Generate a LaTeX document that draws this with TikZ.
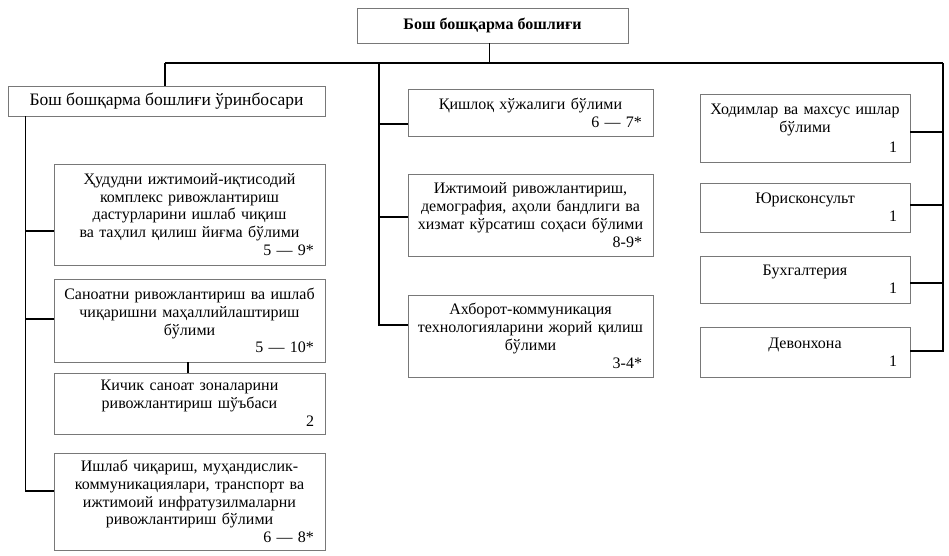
\documentclass[tikz,border=0pt]{standalone}
\usepackage{fontspec}
\setmainfont{Liberation Serif}
\usetikzlibrary{calc}
\definecolor{boxgray}{RGB}{120,120,120}
\newcommand{\numr}[2][5pt]{\makebox[\linewidth][r]{#2\hspace*{#1}}}
\begin{document}
\begin{tikzpicture}[x=1pt,y=-1pt,
  box/.style={draw=boxgray, line width=0.9pt, fill=white, align=center,
    inner xsep=6pt, inner ysep=0pt, font=\fontsize{16}{17.8}\selectfont},
  lbox/.style={box, text width=259pt, minimum width=271pt},
  mbox/.style={box, text width=233pt, minimum width=245pt},
  rbox/.style={box, text width=198pt, minimum width=210pt},
  conn/.style={draw=black, line width=1.2pt}]
\useasboundingbox (0,0) rectangle (949,555);

% boxes
\node[box, minimum width=271pt, minimum height=35pt, font=\fontsize{16}{17.8}\selectfont\bfseries] (top) at (492.5,25.5) {Бош бошқарма бошлиғи};
\node[box, minimum width=317pt, minimum height=30pt, font=\fontsize{17.5}{19}\selectfont] (dep) at (166.5,101) {Бош бошқарма бошлиғи ўринбосари};

\node[lbox, minimum height=101pt] (b1) at (189.5,214.5) {Ҳудудни ижтимоий-иқтисодий\\ комплекс ривожлантириш\\ дастурларини ишлаб чиқиш\\ ва таҳлил қилиш йиғма бўлими\\ \numr{5 — 9*}};
\node[lbox, minimum height=83pt] (b2) at (189.5,320.5) {Саноатни ривожлантириш ва ишлаб\\ чиқаришни маҳаллийлаштириш\\ бўлими\\ \numr{5 — 10*}};
\node[lbox, minimum height=61pt] (b3) at (189.5,403.5) {Кичик саноат зоналарини\\ ривожлантириш шўъбаси\\ \numr{2}};
\node[lbox, minimum height=97pt] (b4) at (189.5,501.5) {Ишлаб чиқариш, муҳандислик-\\ коммуникациялари, транспорт ва\\ ижтимоий инфратузилмаларни\\ ривожлантириш бўлими\\ \numr{6 — 8*}};

\node[mbox, minimum height=47pt] (m1) at (530.5,112.5) {Қишлоқ хўжалиги бўлими\\ \numr{6 — 7*}};
\node[mbox, minimum height=82pt] (m2) at (530.5,215) {Ижтимоий ривожлантириш,\\ демография, аҳоли бандлиги ва\\ хизмат кўрсатиш соҳаси бўлими\\ \numr{8-9*}};
\node[mbox, minimum height=82pt] (m3) at (530.5,336) {Ахборот-коммуникация\\ технологияларини жорий қилиш\\ бўлими\\ \numr{3-4*}};

\node[rbox, minimum height=68pt] (r1) at (805,128) {Ходимлар ва махсус ишлар\\ бўлими\\[2pt] \numr[7pt]{1}};
\node[rbox, minimum height=49pt] (r2) at (805,207.5) {Юрисконсульт\\ \numr[7pt]{1}};
\node[rbox, minimum height=47pt] (r3) at (805,279.5) {Бухгалтерия\\ \numr[7pt]{1}};
\node[rbox, minimum height=50pt] (r4) at (805,352) {Девонхона\\ \numr[7pt]{1}};

% connector points
\coordinate (topc) at ([xshift=-3pt]top.south);
\coordinate (hlL) at (165,63);
\coordinate (hlM) at (379,63);
\coordinate (hlR) at (943,63);
\coordinate (lvTop) at ([xshift=18pt]dep.south west);
\coordinate (b1c) at ([yshift=-16.5pt]b1.west);
\coordinate (b2c) at ([yshift=1.5pt]b2.west);
\coordinate (b4c) at ([yshift=10.5pt]b4.west);
\coordinate (m1c) at ([yshift=-11.5pt]m1.west);
\coordinate (m2c) at ([yshift=-2pt]m2.west);
\coordinate (m3c) at ([yshift=11pt]m3.west);
\coordinate (r1c) at ([yshift=-4pt]r1.east);
\coordinate (r2c) at ([yshift=2.5pt]r2.east);
\coordinate (r3c) at ([yshift=-3.5pt]r3.east);
\coordinate (r4c) at ([yshift=1pt]r4.east);

% connectors
\draw[conn] (topc) -- (topc |- hlM);
\draw[conn] (hlL) -- (hlR);
\draw[conn] (hlL) -- (hlL |- dep.north);
\draw[conn] (hlM) |- (m3c);
\draw[conn] (m1c -| hlM) -- (m1c);
\draw[conn] (m2c -| hlM) -- (m2c);
\draw[conn] (hlR) |- (r4c);
\draw[conn] (r1c -| hlR) -- (r1c);
\draw[conn] (r2c -| hlR) -- (r2c);
\draw[conn] (r3c -| hlR) -- (r3c);
\draw[conn] (lvTop) |- (b4c);
\draw[conn] (b1c -| lvTop) -- (b1c);
\draw[conn] (b2c -| lvTop) -- (b2c);
\draw[conn] ([xshift=-1.5pt]b2.south) -- ([xshift=-1.5pt]b3.north);
\end{tikzpicture}
\end{document}
